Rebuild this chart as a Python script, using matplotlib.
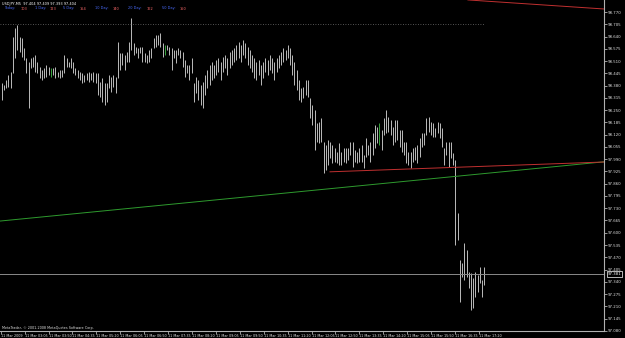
import matplotlib
matplotlib.use("Agg")
import matplotlib.pyplot as plt
import numpy as np

# ---------------- data ----------------
symbol_title = "USDJPY,M5  97.404 97.409 97.393 97.404"
stats_labels = ["Today:", "103", "1 Day:", "123", "5 Day:", "154", "10 Day:", "140",
                "20 Day:", "162", "50 Day:", "150"]

highs = [
    98.394, 98.383, 98.410, 98.436, 98.452, 98.638, 98.685, 98.701, 98.638, 98.632,
    98.579, 98.526, 98.505, 98.526, 98.531, 98.542, 98.505, 98.479, 98.463, 98.473,
    98.489, 98.479, 98.473, 98.473, 98.479, 98.452, 98.463, 98.463, 98.542, 98.526,
    98.505, 98.526, 98.505, 98.473, 98.463, 98.452, 98.447, 98.436, 98.447, 98.452,
    98.447, 98.452, 98.447, 98.447, 98.399, 98.420, 98.394, 98.394, 98.436, 98.426,
    98.436, 98.426, 98.611, 98.553, 98.553, 98.542, 98.558, 98.611, 98.738, 98.606,
    98.584, 98.579, 98.584, 98.584, 98.553, 98.542, 98.569, 98.579, 98.632, 98.648,
    98.648, 98.659, 98.606, 98.595, 98.595, 98.584, 98.579, 98.569, 98.569, 98.579,
    98.569, 98.558, 98.516, 98.489, 98.489, 98.526, 98.394, 98.426,
    98.410, 98.383, 98.399, 98.436, 98.463, 98.489, 98.505, 98.489, 98.516, 98.526,
    98.505, 98.531, 98.542, 98.526, 98.558, 98.569, 98.579, 98.595, 98.611, 98.595,
    98.622, 98.606, 98.584, 98.569, 98.542, 98.526, 98.505, 98.516, 98.489, 98.505,
    98.526, 98.516, 98.542, 98.526, 98.505, 98.526, 98.542, 98.558, 98.579, 98.569,
    98.595, 98.579, 98.542, 98.505, 98.463,
    98.410, 98.367, 98.373, 98.410, 98.410, 98.314, 98.277, 98.251, 98.182, 98.187,
    98.208, 98.081, 98.065, 98.092, 98.081, 98.065, 98.049, 98.028, 98.076, 98.028,
    98.049, 98.049, 98.049, 98.081, 98.081, 98.039, 98.028, 98.049, 98.065, 98.012,
    98.102, 98.065, 98.081, 98.129, 98.171, 98.161, 98.182, 98.145, 98.208, 98.251,
    98.214, 98.198, 98.161, 98.198, 98.198, 98.145, 98.145, 98.081, 98.081, 98.028,
    98.028, 98.049, 98.055, 98.065, 98.102, 98.129, 98.129, 98.208, 98.214, 98.187,
    98.182, 98.155, 98.187, 98.182, 98.155, 98.049, 98.081, 98.081, 98.081,
    98.023, 97.986, 97.705, 97.456, 97.440, 97.546, 97.509, 97.392, 97.387, 97.360,
    97.392, 97.376, 97.418, 97.349, 97.418,
]
lows = [
    98.304, 98.357, 98.367, 98.373, 98.367, 98.447, 98.526, 98.569, 98.558, 98.531,
    98.516, 98.447, 98.261, 98.473, 98.479, 98.452, 98.447, 98.420, 98.410, 98.420,
    98.426, 98.436, 98.426, 98.436, 98.420, 98.426, 98.420, 98.426, 98.447, 98.479,
    98.479, 98.473, 98.447, 98.436, 98.420, 98.410, 98.394, 98.399, 98.410, 98.399,
    98.410, 98.399, 98.394, 98.330, 98.320, 98.293, 98.277, 98.293, 98.367, 98.346,
    98.373, 98.341, 98.420, 98.463, 98.489, 98.463, 98.505, 98.505, 98.569, 98.542,
    98.553, 98.526, 98.553, 98.505, 98.505, 98.500, 98.505, 98.526, 98.579, 98.584,
    98.595, 98.584, 98.531, 98.542, 98.569, 98.542, 98.463, 98.526, 98.500, 98.542,
    98.526, 98.479, 98.426, 98.447, 98.410, 98.447, 98.293, 98.341,
    98.304, 98.277, 98.261, 98.330, 98.367, 98.383, 98.410, 98.420, 98.436, 98.452,
    98.410, 98.452, 98.473, 98.436, 98.473, 98.489, 98.505, 98.516, 98.526, 98.505,
    98.542, 98.526, 98.489, 98.473, 98.452, 98.420, 98.410, 98.436, 98.383, 98.420,
    98.452, 98.436, 98.463, 98.447, 98.410, 98.452, 98.473, 98.489, 98.505, 98.516,
    98.526, 98.489, 98.436, 98.383, 98.357,
    98.304, 98.293, 98.314, 98.330, 98.320, 98.208, 98.171, 98.039, 98.081, 98.076,
    98.081, 97.917, 97.933, 97.959, 97.996, 97.970, 97.975, 97.970, 97.959, 97.959,
    97.975, 97.970, 97.986, 98.012, 97.949, 97.975, 97.970, 97.975, 97.975, 97.943,
    98.002, 98.012, 97.975, 98.012, 98.049, 98.076, 98.065, 98.039, 98.118, 98.129,
    98.134, 98.118, 98.065, 98.081, 98.092, 98.055, 98.028, 98.012, 97.970, 97.959,
    97.943, 97.975, 97.986, 97.970, 98.002, 98.055, 98.065, 98.118, 98.134, 98.118,
    98.108, 98.108, 98.129, 98.102, 98.055, 97.959, 98.012, 97.949, 97.996,
    97.959, 97.535, 97.562, 97.233, 97.366, 97.349, 97.366, 97.307, 97.191, 97.201,
    97.260, 97.286, 97.334, 97.260, 97.323,
]
green_bars = [22, 73, 169]

y_ticks = [98.770, 98.705, 98.640, 98.575, 98.510, 98.445, 98.380, 98.315, 98.250,
           98.185, 98.120, 98.055, 97.990, 97.925, 97.860, 97.795, 97.730, 97.665,
           97.600, 97.535, 97.470, 97.405, 97.340, 97.275, 97.210, 97.145, 97.080]

x_labels = ["11 Mar 2009", "11 Mar 03:05", "11 Mar 03:50", "11 Mar 04:35", "11 Mar 05:20",
            "11 Mar 06:05", "11 Mar 06:50", "11 Mar 07:35", "11 Mar 08:20", "11 Mar 09:05",
            "11 Mar 09:50", "11 Mar 10:35", "11 Mar 11:20", "11 Mar 12:05", "11 Mar 12:50",
            "11 Mar 13:35", "11 Mar 14:20", "11 Mar 15:05", "11 Mar 15:50", "11 Mar 16:35",
            "11 Mar 17:20"]

current_price = 97.381
day_high_line = 98.705
green_trend = ([-0.76, 269.5], [97.662, 97.976])
red_trend = ([146.9, 269.5], [97.923, 97.975])
red_trend_top = ([208.6, 269.5], [98.834, 98.786])

# ---------------- figure ----------------
W, H = 625, 338
fig = plt.figure(figsize=(W / 100, H / 100), dpi=100, facecolor="black")
ax = fig.add_axes([0, 1 - 331 / H, 604 / W, 331 / H])
ax.set_facecolor("black")

n = len(highs)
idx = np.arange(n)
colors = ["#3cb043" if i in green_bars else "#c8c8c8" for i in idx]
ax.vlines(idx, lows, highs, colors=colors, linewidth=0.65)

ax.plot(*green_trend, color="#2e9a2e", lw=0.7)
ax.plot(*red_trend, color="#c03030", lw=0.7)
ax.plot(*red_trend_top, color="#c03030", lw=0.7)
ax.axhline(current_price, color="#8a8a8a", lw=0.7)
ax.plot([-0.76, n - 1], [day_high_line, day_high_line], color="#707070", lw=0.6,
        linestyle=(0, (1, 2)))

ax.set_xlim(-0.76, 269.5)
ax.set_ylim(97.0793, 98.8336)

# axes styling
for s in ["left", "top"]:
    ax.spines[s].set_visible(False)
for s in ["right", "bottom"]:
    ax.spines[s].set_color("#b0b0b0")
    ax.spines[s].set_linewidth(0.8)

ax.yaxis.tick_right()
ax.set_yticks(y_ticks)
ax.set_yticklabels([f"{v:.3f}" for v in y_ticks])
ax.tick_params(axis="y", colors="#b0b0b0", labelcolor="#e0e0e0", labelsize=2.8,
               length=2, width=0.6, pad=1)

xt = [k * 10.7 - 0.45 for k in range(len(x_labels))]
ax.set_xticks(xt)
ax.set_xticklabels(x_labels, ha="left")
ax.tick_params(axis="x", colors="#b0b0b0", labelcolor="#e0e0e0", labelsize=2.4,
               length=2, width=0.6, pad=0.5)

# current price box
ax.text(1.006, current_price, f"{current_price:.3f}", transform=ax.get_yaxis_transform(),
        fontsize=2.8, color="white", va="center", ha="left",
        bbox=dict(boxstyle="square,pad=0.15", fc="black", ec="white", lw=0.5))

# header texts
fig.text(2 / W, 1 - 3.5 / H, symbol_title, color="white", fontsize=2.5, va="center", ha="left")
xs = [4, 21, 35, 50, 63, 80, 95, 113, 128, 147, 162, 180]
for i, (t, x) in enumerate(zip(stats_labels, xs)):
    fig.text(x / W, 1 - 8.5 / H, t, color="#4a6cff" if i % 2 == 0 else "#ff6a6a",
             fontsize=2.5, va="center", ha="left")

fig.text(2 / W, 1 - 327.5 / H, "MetaTrader, © 2001-2008 MetaQuotes Software Corp.",
         color="#e0e0e0", fontsize=2.4, va="center", ha="left")

fig.savefig("out.png", dpi=100, facecolor="black")
